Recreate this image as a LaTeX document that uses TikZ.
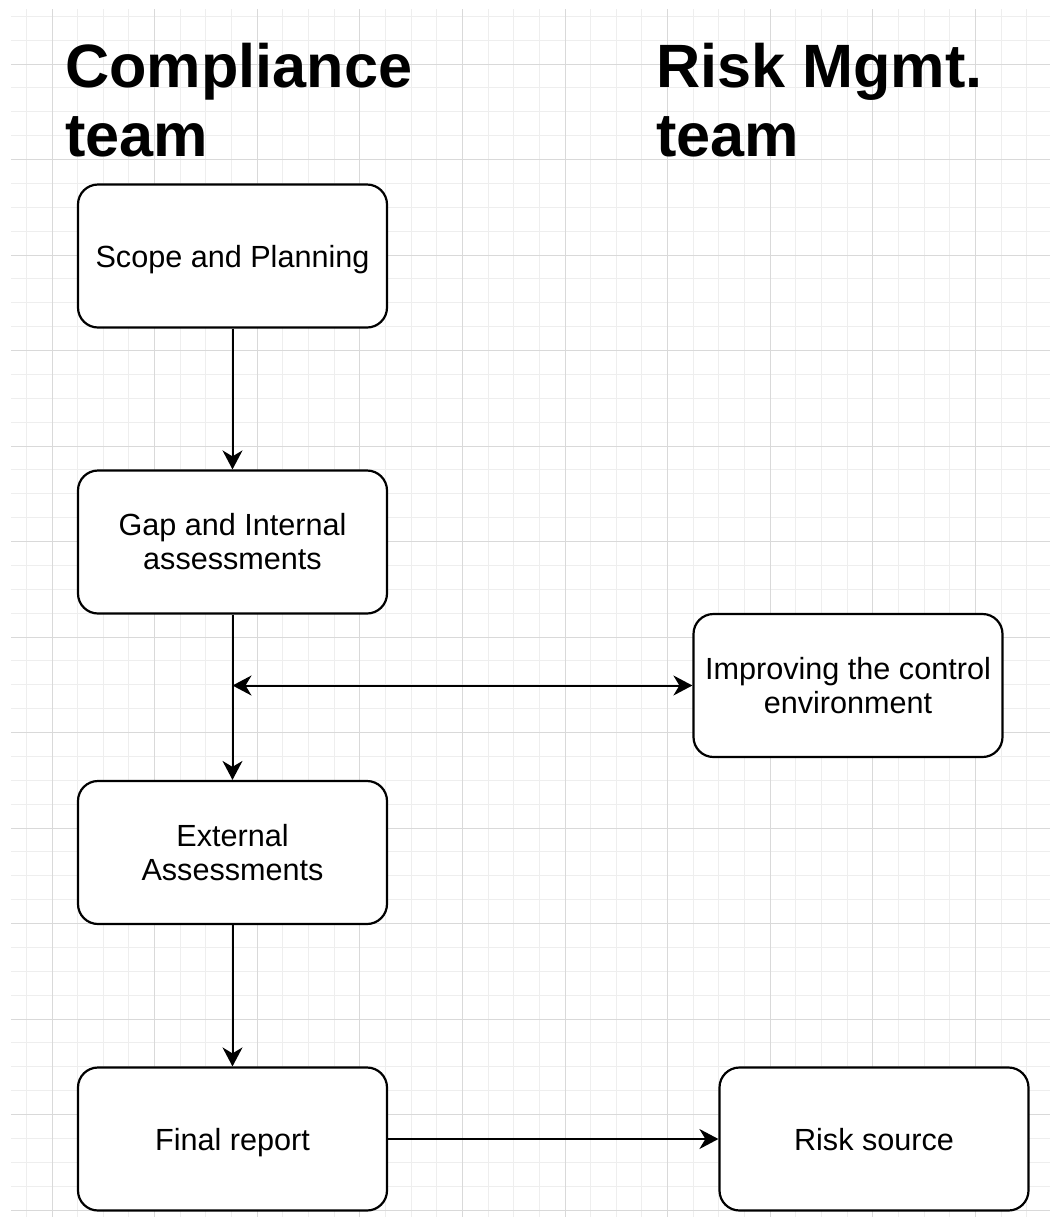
\documentclass[tikz,border=0pt]{standalone}
\usepackage{fontspec}
\setmainfont{Liberation Sans}
\usetikzlibrary{arrows.meta}

\definecolor{gridminor}{HTML}{EEEEEE}
\definecolor{gridmajor}{HTML}{D9D9D9}

\tikzset{
  stepbox/.style={draw, line width=1.1pt, rounded corners=10pt, fill=white,
    minimum width=154.5pt, minimum height=71.5pt, align=center, inner sep=2pt,
    font=\fontsize{15.3}{17}\selectfont},
  oneline/.style={stepbox, text depth=0pt},
  teamhead/.style={anchor=north west, inner sep=0pt, align=left,
    font=\fontsize{30.6}{34.5}\selectfont\bfseries},
  flow/.style={line width=1pt, -{Stealth[length=9.5pt,width=10pt,inset=3pt]}},
  flowboth/.style={line width=1pt, {Stealth[length=9.5pt,width=10pt,inset=3pt]}-{Stealth[length=9.5pt,width=10pt,inset=3pt]}}
}

\begin{document}
\begin{tikzpicture}[x=0.5pt,y=0.5pt,yscale=-1,xscale=1]
\useasboundingbox (0,0) rectangle (1050,1217);

%Grid
\foreach \k in {-1,...,38}
  \draw[gridminor, line width=0.5pt] ({52+25.65*\k},9) -- ({52+25.65*\k},1217);
\foreach \k in {-2,...,48}
  \draw[gridminor, line width=0.5pt] (11,{64+23.875*\k}) -- (1050,{64+23.875*\k});
\foreach \k in {0,4,...,36}
  \draw[gridmajor, line width=0.5pt] ({52+25.65*\k},9) -- ({52+25.65*\k},1217);
\foreach \k in {0,4,...,48}
  \draw[gridmajor, line width=0.5pt] (11,{64+23.875*\k}) -- (1050,{64+23.875*\k});

% Team headers
\node[teamhead] (compliance) at (65,43) {Compliance\\team};
\node[teamhead] (riskteam) at (656,43) {Risk Mgmt.\\team};

% Process boxes
\node[oneline] (scope) at (232.5,256) {Scope and Planning};
\node[stepbox] (gap) at (232.5,542) {Gap and Internal\\assessments};
\node[stepbox] (external) at (232.5,852.5) {External\\Assessments};
\node[oneline] (final) at (232.5,1139) {Final report};
\node[stepbox] (improve) at (848,685.5) {Improving the control\\environment};
\node[oneline] (risksrc) at (874,1139) {Risk source};

% Connectors
\coordinate (junction) at (gap.south |- improve.west);
\draw[flow] (scope) -- (gap);
\draw[flow] (gap) -- (external);
\draw[flowboth] (junction) -- (improve);
\draw[flow] (external) -- (final);
\draw[flow] (final) -- (risksrc);

\end{tikzpicture}
\end{document}
